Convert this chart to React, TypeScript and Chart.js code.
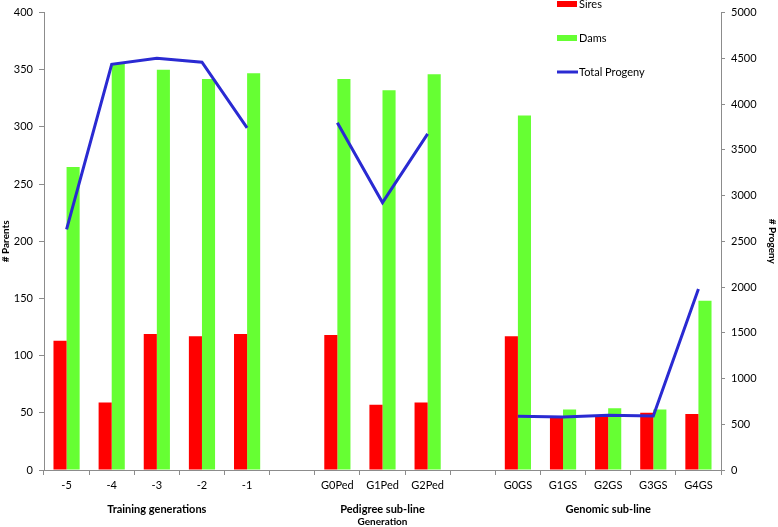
import React, { useEffect, useRef } from "react";
import { Chart, registerables } from "chart.js";

Chart.register(...registerables);

const categories = ["-5", "-4", "-3", "-2", "-1", "", "G0Ped", "G1Ped", "G2Ped", "", "G0GS", "G1GS", "G2GS", "G3GS", "G4GS"];
const sires = [113, 59, 119, 117, 119, null, 118, 57, 59, null, 117, 46, 48, 50, 49];
const dams = [265, 355, 350, 342, 347, null, 342, 332, 346, null, 310, 53, 54, 53, 148];
const progeny = [2630, 4435, 4500, 4457, 3739, null, 3797, 2924, 3674, null, 587, 580, 598, 590, 1978];
const groupLabels = ["Training generations", "Pedigree sub-line", "Genomic sub-line"];
const groupCenterIndex = [2, 7, 12];
const xTitle = "Generation";

const RED = "#FF0000";
const GREEN = "#66FF33";
const BLUE = "#2A2AD2";
const AXIS = "#8C8C8C";
const FONT = "Lato, 'Open Sans', sans-serif";

const overlayPlugin = {
  id: "overlay",
  afterDraw(chart: any) {
    const ctx = chart.ctx;
    const xs = chart.scales.x;
    ctx.save();
    ctx.fillStyle = "#000";
    ctx.textAlign = "center";
    ctx.textBaseline = "middle";
    ctx.font = `bold 11px ${FONT}`;
    groupLabels.forEach((g, i) => {
      ctx.fillText(g, xs.getPixelForValue(groupCenterIndex[i]), 509);
    });
    ctx.font = `bold 10px ${FONT}`;
    ctx.fillText(xTitle, xs.getPixelForValue(groupCenterIndex[1]), 522);

    // legend
    const lx = 557;
    ctx.font = `11px ${FONT}`;
    ctx.textAlign = "left";
    ctx.fillStyle = RED;
    ctx.fillRect(lx, 1, 20, 6);
    ctx.fillStyle = GREEN;
    ctx.fillRect(lx, 35, 20, 6);
    ctx.strokeStyle = BLUE;
    ctx.lineWidth = 3;
    ctx.beginPath();
    ctx.moveTo(lx, 72);
    ctx.lineTo(lx + 21, 72);
    ctx.stroke();
    ctx.fillStyle = "#000";
    ctx.fillText("Sires", lx + 22, 4);
    ctx.fillText("Dams", lx + 22, 38);
    ctx.fillText("Total Progeny", lx + 22, 72);
    ctx.restore();
  },
};

export default function App() {
  const ref = useRef<HTMLCanvasElement | null>(null);
  useEffect(() => {
    if (!ref.current) return;
    const chart = new Chart(ref.current, {
      type: "bar",
      data: {
        labels: categories,
        datasets: [
          {
            type: "line",
            label: "Total Progeny",
            data: progeny,
            yAxisID: "y1",
            borderColor: BLUE,
            backgroundColor: BLUE,
            borderWidth: 3,
            pointRadius: 0,
            spanGaps: false,
            order: 0,
          } as any,
          {
            label: "Sires",
            data: sires,
            backgroundColor: RED,
            yAxisID: "y",
            order: 1,
            categoryPercentage: 0.58,
            barPercentage: 1,
          },
          {
            label: "Dams",
            data: dams,
            backgroundColor: GREEN,
            yAxisID: "y",
            order: 1,
            categoryPercentage: 0.58,
            barPercentage: 1,
          },
        ],
      },
      options: {
        responsive: false,
        animation: false,
        layout: { padding: { top: 10, left: 0, right: 0, bottom: 0 } },
        plugins: { legend: { display: false }, tooltip: { enabled: false } },
        scales: {
          x: {
            offset: true,
            grid: {
              offset: true,
              drawOnChartArea: false,
              drawTicks: true,
              tickLength: 5,
              color: AXIS,
            },
            border: { color: AXIS, width: 1 },
            ticks: {
              color: "#000",
              font: { family: FONT, size: 11 },
              padding: 4,
              maxRotation: 0,
              autoSkip: false,
            },
            afterFit(scale: any) {
              scale.height = 57;
            },
          },
          y: {
            position: "left",
            min: 0,
            max: 400,
            ticks: {
              stepSize: 50,
              color: "#000",
              font: { family: FONT, size: 11 },
              padding: 6,
              callback: (v: any) => String(v),
            },
            grid: { drawOnChartArea: false, tickLength: 5, color: AXIS },
            border: { color: AXIS, width: 1 },
            title: {
              display: true,
              text: "# Parents",
              color: "#000",
              font: { family: FONT, size: 10, weight: "bold" },
              padding: 0,
            },
            afterFit(scale: any) {
              scale.width = 44;
            },
          },
          y1: {
            position: "right",
            min: 0,
            max: 5000,
            ticks: {
              stepSize: 500,
              color: "#000",
              font: { family: FONT, size: 11 },
              padding: 6,
              callback: (v: any) => String(v),
            },
            grid: { drawOnChartArea: false, tickLength: 4, color: AXIS },
            border: { color: AXIS, width: 1 },
            title: {
              display: true,
              text: "# Progeny",
              color: "#000",
              font: { family: FONT, size: 10, weight: "bold" },
              padding: 0,
            },
            afterFit(scale: any) {
              scale.width = 57;
            },
          },
        },
      },
      plugins: [overlayPlugin],
    });
    return () => chart.destroy();
  }, []);
  return (
    <div style={{ position: "absolute", left: 0, top: 0, width: 778, height: 527, background: "#fff" }}>
      <canvas ref={ref} width={778} height={527} style={{ display: "block" }} />
    </div>
  );
}
